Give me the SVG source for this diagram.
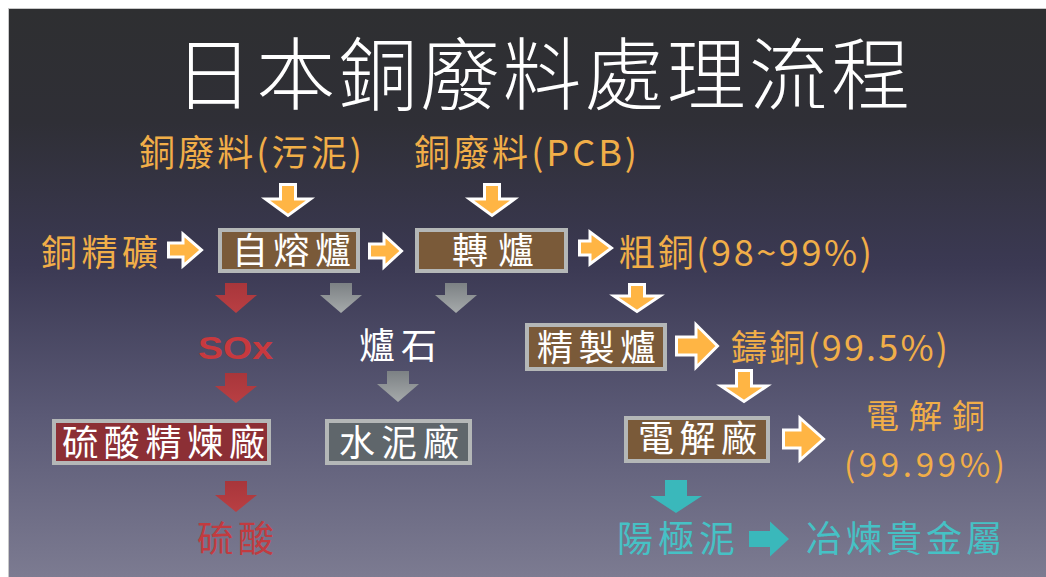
<svg xmlns="http://www.w3.org/2000/svg" width="1046" height="577" viewBox="0 0 1046 577">
<defs>
<linearGradient id="bg" x1="0" y1="0" x2="0" y2="1">
<stop offset="0" stop-color="#2e2f31"/>
<stop offset="0.2" stop-color="#2f2f36"/>
<stop offset="0.45" stop-color="#3b3953"/>
<stop offset="0.72" stop-color="#5b5a76"/>
<stop offset="1" stop-color="#7c7b91"/>
</linearGradient>
<linearGradient id="gray" x1="0" y1="0" x2="0" y2="1">
<stop offset="0" stop-color="#7c8184"/>
<stop offset="1" stop-color="#a6aaab"/>
</linearGradient>
<linearGradient id="red" x1="0" y1="0" x2="0" y2="1">
<stop offset="0" stop-color="#a8363b"/>
<stop offset="1" stop-color="#b93f43"/>
</linearGradient>
<style>
.cjk{font-family:"Noto Sans CJK TC","Noto Sans CJK JP",sans-serif;}
.or{fill:#f1ae48;}
.wt{fill:#ffffff;}
.rd{fill:#c23b40;}
.tl{fill:#46c1c5;}
.t33{font-size:36px;}
.box{stroke:#b4b7b7;stroke-width:4;}
.brown{fill:#7a5a39;}
.oa{fill:#ffb544;stroke:#ffffff;stroke-width:3;stroke-linejoin:miter;}
.ra{fill:url(#red);}
.ga{fill:url(#gray);}
.ta{fill:#3ab8bb;}
</style>
</defs>
<rect x="0" y="0" width="1046" height="577" fill="#ffffff"/>
<rect x="8" y="8" width="1038" height="569" fill="#c8c8c8"/>
<rect x="9" y="9" width="1037" height="568" fill="url(#bg)"/>

<g id="title"><text class="cjk wt" x="174" y="104" font-size="79" font-weight="300" textLength="736" lengthAdjust="spacing">日本銅廢料處理流程</text></g>

<g id="connectors">
<path class="oa" d="M280.5,184.5 H295.5 V199 H310.5 L288,215.5 L265.5,199 H280.5 Z"/>
<path class="oa" d="M484.5,184.5 H499.5 V199 H514.5 L492,215.5 L469.5,199 H484.5 Z"/>
<path class="oa" d="M168.5,243 H183 V234 L201.5,250 L183,266 V257 H168.5 Z"/>
<path class="oa" d="M369.5,244 H384 V235 L401.5,251 L384,267 V258 H369.5 Z"/>
<path class="oa" d="M579.5,241 H590 V232 L611.5,248 L590,264 V255 H579.5 Z"/>
<path class="oa" d="M629.5,284.5 H644.5 V296 H660 L637,311.5 L614,296 H629.5 Z"/>
<path class="oa" d="M676.5,337 H696 V324.5 L717.5,346 L696,367.5 V355 H676.5 Z"/>
<path class="oa" d="M736.5,370.5 H751.5 V386 H767 L744,401.5 L721,386 H736.5 Z"/>
<path class="oa" d="M783.5,430 H800 V418 L823.5,439 L800,460 V448 H783.5 Z"/>
<path class="ra" d="M225,283 H247 V295 H257 L236,313 L215,295 H225 Z"/>
<path class="ra" d="M225,373 H247 V386 H257 L236,403 L215,386 H225 Z"/>
<path class="ra" d="M225,481 H247 V495 H257 L236,512 L215,495 H225 Z"/>
<path class="ga" d="M330,283 H352 V295 H362 L341,313 L320,295 H330 Z"/>
<path class="ga" d="M445,283 H467 V295 H477 L456,313 L435,295 H445 Z"/>
<path class="ga" d="M387,371 H409 V384 H419 L398,402 L377,384 H387 Z"/>
<path class="ta" d="M665,480 H687 V496 H702 L676,513 L650,496 H665 Z"/>
<path class="ta" d="M749,531 H770 V521.5 L789,539 L770,556.5 V547 H749 Z"/>
</g>

<g id="n-sludge"><text class="cjk or t33" x="139" y="166" textLength="223" lengthAdjust="spacing">銅廢料(污泥)</text></g>
<g id="n-pcb"><text class="cjk or t33" x="414" y="166" textLength="223" lengthAdjust="spacing">銅廢料(PCB)</text></g>
<g id="n-ore"><text class="cjk or t33" x="41" y="266" textLength="117" lengthAdjust="spacing">銅精礦</text></g>
<g id="n-flash"><rect class="box brown" x="220" y="230" width="138" height="41"/><text class="cjk wt t33" x="232" y="264" textLength="119" lengthAdjust="spacing">自熔爐</text></g>
<g id="n-conv"><rect class="box brown" x="417" y="230" width="149" height="41"/><text class="cjk wt t33" x="452" y="264" textLength="82" lengthAdjust="spacing">轉爐</text></g>
<g id="n-blister"><text class="cjk or t33" x="619" y="266" textLength="253" lengthAdjust="spacing">粗銅(98~99%)</text></g>
<g id="n-sox"><text x="198" y="359" font-family="Liberation Sans, Arial, sans-serif" font-weight="bold" font-size="31" fill="#c8393e" textLength="75" lengthAdjust="spacingAndGlyphs">SOx</text></g>
<g id="n-slag"><text class="cjk wt t33" x="359" y="359" textLength="78" lengthAdjust="spacing">爐石</text></g>
<g id="n-refine"><rect class="box brown" x="527" y="325" width="138" height="44"/><text class="cjk wt t33" x="537" y="361" textLength="119" lengthAdjust="spacing">精製爐</text></g>
<g id="n-cast"><text class="cjk or t33" x="731" y="361" textLength="217" lengthAdjust="spacing">鑄銅(99.5%)</text></g>
<g id="n-acid-plant"><rect class="box" x="54" y="421" width="215" height="42" fill="#8c2f35"/><text class="cjk wt t33" x="62" y="456" textLength="203" lengthAdjust="spacing">硫酸精煉廠</text></g>
<g id="n-cement"><rect class="box" x="327" y="421" width="143" height="42" fill="#5f666b"/><text class="cjk wt t33" x="339" y="456" textLength="120" lengthAdjust="spacing">水泥廠</text></g>
<g id="n-electro"><rect class="box brown" x="626" y="418" width="142" height="43"/><text class="cjk wt t33" x="638" y="452" textLength="119" lengthAdjust="spacing">電解廠</text></g>
<g id="n-cathode"><text class="cjk or" font-size="33" x="866" y="428" textLength="119" lengthAdjust="spacing">電解銅</text><text class="cjk or" font-size="33" x="844" y="477" textLength="161" lengthAdjust="spacing">(99.99%)</text></g>
<g id="n-acid"><text class="cjk rd t33" x="197" y="552" textLength="77" lengthAdjust="spacing">硫酸</text></g>
<g id="n-slime"><text class="cjk tl t33" x="617" y="552" textLength="118" lengthAdjust="spacing">陽極泥</text></g>
<g id="n-precious"><text class="cjk tl t33" x="806" y="552" textLength="196" lengthAdjust="spacing">冶煉貴金屬</text></g>
</svg>
